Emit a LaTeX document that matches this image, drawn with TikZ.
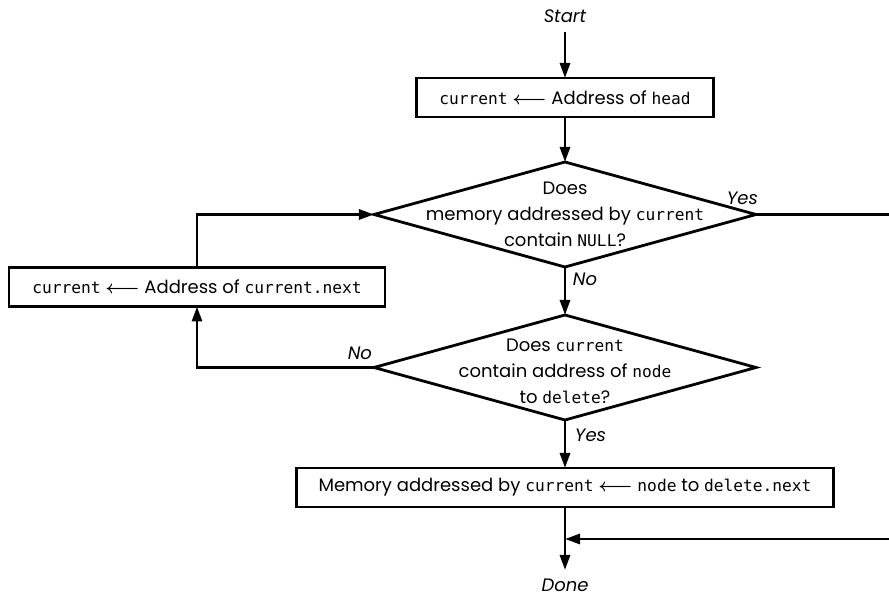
\documentclass[tikz,border=0pt]{standalone}
\usepackage{fontspec}
\usepackage{amsmath}
\setmainfont{Poppins}
\setmonofont{DejaVu Sans Mono}[Scale=0.9]
\usetikzlibrary{arrows.meta,positioning,shapes.geometric,calc}
\newcommand{\assign}{$\boldsymbol{\longleftarrow}$}

\begin{document}
\begin{tikzpicture}[node distance=24pt, every node/.style={font=\fontsize{9}{13}\selectfont, outer sep=0pt}, proc/.style={draw, line width=1.4pt, minimum height=19.5pt, inner sep=2pt}, decision/.style={draw, diamond, line width=1.4pt, minimum width=191pt, minimum height=52.5pt, inner sep=0pt}, lbl/.style={font=\fontsize{9}{11}\selectfont\itshape, inner sep=1pt, text height=7pt, text depth=1pt}, arrow/.style={-{Triangle[length=7.5pt,width=5pt]}, line width=1.4pt}]
\node[lbl] (start) {Start};
\coordinate (nw) at ([xshift=-282.5pt,yshift=8.5pt]start.center);
\coordinate (se) at ([xshift=162pt,yshift=-290pt]start.center);
\useasboundingbox (nw) rectangle (se);
\node[proc, minimum width=148.5pt, below=25.5pt of start] (head) {\texttt{current} \assign{} Address of \texttt{head}};
\node[decision, below=22.5pt of head, label={[align=center]center:Does\\memory addressed by \texttt{current}\\contain \texttt{NULL}?}] (isnull) {};
\node[decision, below=of isnull, label={[align=center, yshift=-2pt]center:Does \texttt{current}\\contain address of \texttt{node}\\to \texttt{delete}?}] (isnode) {};
\node[proc, minimum width=268.5pt, below=of isnode] (unlink) {Memory addressed by \texttt{current} \assign{} \texttt{node} to \texttt{delete.next}};
\node[lbl, below=34.5pt of unlink] (done) {Done};
\node[proc, minimum width=188pt, anchor=north east] (advance) at ([xshift=5.5pt,yshift=-26.5pt]isnull.west) {\texttt{current} \assign{} Address of \texttt{current.next}};
\node[lbl, anchor=south east] (yesnull) at ([xshift=2pt,yshift=3pt]isnull.east) {Yes};
\node[lbl, anchor=north west] (nonull) at ([xshift=3pt,yshift=-1.5pt]isnull.south) {No};
\node[lbl, anchor=south east] (nonode) at ([xshift=0pt,yshift=2pt]isnode.west) {No};
\node[lbl, anchor=north west] (yesnode) at ([xshift=4pt,yshift=-3pt]isnode.south) {Yes};
\coordinate (join) at ([yshift=-16pt]unlink.south);
\coordinate (yesout) at (isnull.east -| se);
\coordinate (yesin) at (join -| se);
\draw[arrow] ([yshift=-2.5pt]start.south)--(head);
\draw[arrow] (head)--(isnull);
\draw[arrow] (isnull)--(isnode);
\draw[arrow] (isnode)--(unlink);
\draw[arrow, shorten >=3pt] (unlink)--(done);
\draw[arrow] (isnode.west) -| (advance.south);
\draw[arrow] (advance.north) |- (isnull.west);
\draw[line width=1.4pt] (isnull.east)--(yesout);
\draw[arrow] (yesin)--(join);
\end{tikzpicture}
\end{document}
